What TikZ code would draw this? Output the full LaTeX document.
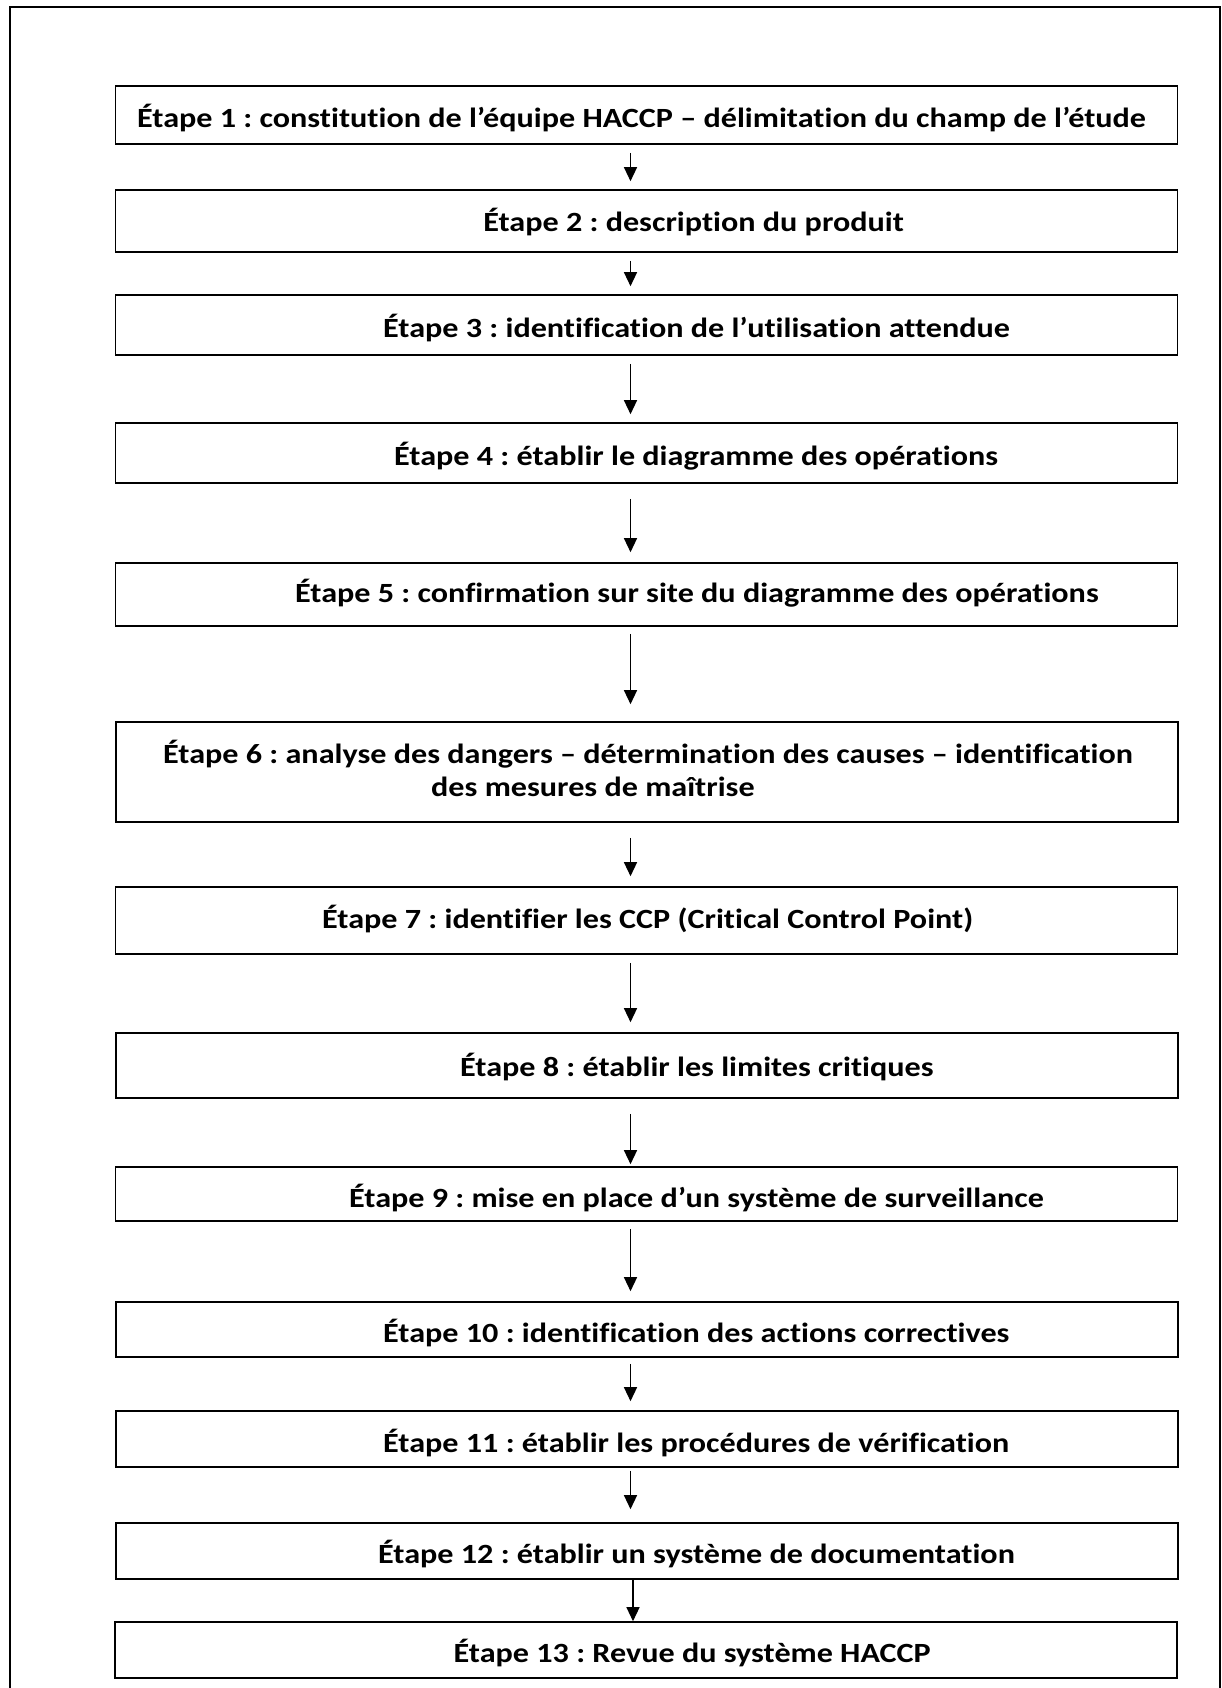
\documentclass[tikz,border=0pt]{standalone}
\usepackage{fontspec}
\newfontfamily\stepfont{Carlito}[FakeStretch=1.157, Ligatures=NoCommon]
\usetikzlibrary{arrows.meta}
\frenchspacing
\begin{document}
\begin{tikzpicture}[x=1pt,y=-1pt,
  stepbox/.style={draw, line width=1.6pt, rectangle, inner sep=0pt, minimum width=1062pt},
  steptext/.style={inner sep=0pt, font=\stepfont\bfseries\fontsize{27.8}{33}\selectfont},
  flow/.style={line width=1.3pt, -{Triangle[width=13pt,length=14pt]}}]
\useasboundingbox (0,0) rectangle (1221,1688);
% page frame (open at the bottom)
\draw[line width=2pt] (10,1690) -- (10,7) -- (1219.5,7) -- (1219.5,1690);

% step boxes
\node[stepbox, minimum height=58pt] (s1)  at (646.5,115)    {};
\node[stepbox, minimum height=62pt] (s2)  at (646.5,221)    {};
\node[stepbox, minimum height=60pt] (s3)  at (646.5,325)    {};
\node[stepbox, minimum height=60pt] (s4)  at (646.5,453)    {};
\node[stepbox, minimum height=63pt] (s5)  at (646.5,594.5)  {};
\node[stepbox, minimum height=100pt] (s6) at (647,772)      {};
\node[stepbox, minimum height=67pt] (s7)  at (646.5,920.5)  {};
\node[stepbox, minimum height=65pt] (s8)  at (647,1065.5)   {};
\node[stepbox, minimum height=54pt] (s9)  at (646.5,1194)   {};
\node[stepbox, minimum height=55pt] (s10) at (647,1329.5)   {};
\node[stepbox, minimum height=56pt] (s11) at (647,1439)     {};
\node[stepbox, minimum height=56pt] (s12) at (647,1551)     {};
\node[stepbox, minimum height=56pt] (s13) at (646,1650)     {};

% step labels
\node[steptext, anchor=base west] (t1)  at (137,128)  {Étape 1 : constitution de l’équipe HACCP – délimitation du champ de l’étude};
\node[steptext, anchor=base east] (t2)  at (904,232)  {Étape 2 : description du produit};
\node[steptext, anchor=base west] (t3)  at (383,337)  {Étape 3 : identification de l’utilisation attendue};
\node[steptext, anchor=base west] (t4)  at (394,465)  {Étape 4 : établir le diagramme des opérations};
\node[steptext, anchor=base west] (t5)  at (295,602)  {Étape 5 : confirmation sur site du diagramme des opérations};
\node[steptext, anchor=base west] (t6a) at (163,763)  {Étape 6 : analyse des dangers – détermination des causes – identification};
\node[steptext, anchor=base west] (t6b) at (431,796)  {des mesures de maîtrise};
\node[steptext, anchor=base west] (t7)  at (322,928)  {Étape 7 : identifier les CCP (Critical Control Point)};
\node[steptext, anchor=base west] (t8)  at (460,1076) {Étape 8 : établir les limites critiques};
\node[steptext, anchor=base west] (t9)  at (349,1207) {Étape 9 : mise en place d’un système de surveillance};
\node[steptext, anchor=base west] (t10) at (383,1342) {Étape 10 : identification des actions correctives};
\node[steptext, anchor=base west] (t11) at (383,1452) {Étape 11 : établir les procédures de vérification};
\node[steptext, anchor=base west] (t12) at (378,1563) {Étape 12 : établir un système de documentation};
\node[steptext, anchor=base east] (t13) at (931,1662) {Étape 13 : Revue du système HACCP};

% connectors
\coordinate (ax) at (630.5,0);
\coordinate (bx) at (633,0);
\draw[flow, shorten <=8pt,  shorten >=8pt]  (s1.south -| ax)  -- (s2.north -| ax);
\draw[flow, shorten <=8pt,  shorten >=8pt]  (s2.south -| ax)  -- (s3.north -| ax);
\draw[flow, shorten <=8pt,  shorten >=8pt]  (s3.south -| ax)  -- (s4.north -| ax);
\draw[flow, shorten <=15pt, shorten >=10pt] (s4.south -| ax)  -- (s5.north -| ax);
\draw[flow, shorten <=7pt,  shorten >=17pt] (s5.south -| ax)  -- (s6.north -| ax);
\draw[flow, shorten <=15pt, shorten >=10pt] (s6.south -| ax)  -- (s7.north -| ax);
\draw[flow, shorten <=8pt,  shorten >=10pt] (s7.south -| ax)  -- (s8.north -| ax);
\draw[flow, shorten <=15pt, shorten >=2pt]  (s8.south -| ax)  -- (s9.north -| ax);
\draw[flow, shorten <=7pt,  shorten >=10pt] (s9.south -| ax)  -- (s10.north -| ax);
\draw[flow, shorten <=6pt,  shorten >=9pt]  (s10.south -| ax) -- (s11.north -| ax);
\draw[flow, shorten <=3pt,  shorten >=13pt] (s11.south -| ax) -- (s12.north -| ax);
\draw[flow]                                 (s12.south -| bx) -- (s13.north -| bx);
\end{tikzpicture}
\end{document}
